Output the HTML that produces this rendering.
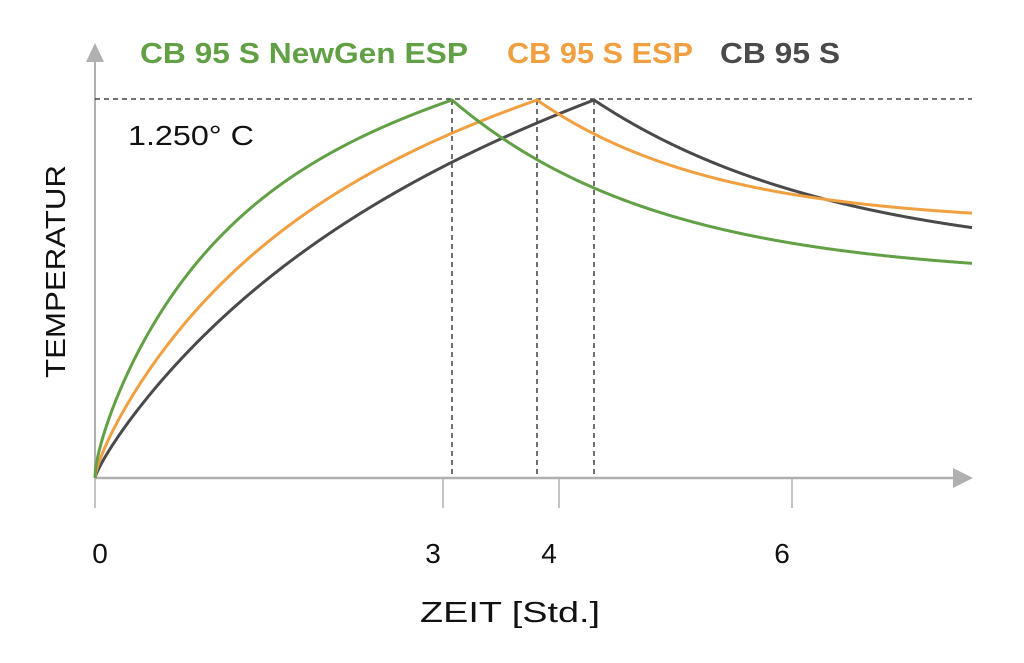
<!DOCTYPE html>
<html><head><meta charset="utf-8"><style>
html,body{margin:0;padding:0;background:#fff;}
svg{display:block;}
</style></head><body>
<svg id="s" width="1024" height="663" xmlns="http://www.w3.org/2000/svg" font-family="Liberation Sans, sans-serif">
<rect width="1024" height="663" fill="#fff"/>
<line x1="95" y1="478" x2="95" y2="60" stroke="#b0b0b0" stroke-width="2"/>
<polygon points="86,62 104,62 95,43" fill="#b0b0b0"/>
<line x1="95" y1="478" x2="955" y2="478" stroke="#b0b0b0" stroke-width="2.5"/>
<polygon points="953,468 953,488 973,478" fill="#b0b0b0"/>
<g stroke="#b0b0b0" stroke-width="1.5">
<line x1="95" y1="478" x2="95" y2="508"/>
<line x1="443" y1="478" x2="443" y2="508"/>
<line x1="559" y1="478" x2="559" y2="508"/>
<line x1="792" y1="478" x2="792" y2="508"/>
</g>
<g stroke="#222" stroke-width="1.3" stroke-dasharray="5,4" fill="none">
<line x1="95" y1="99" x2="972" y2="99"/>
<line x1="452" y1="100" x2="452" y2="478"/>
<line x1="537" y1="100" x2="537" y2="478"/>
<line x1="594" y1="100" x2="594" y2="478"/>
</g>
<g id="curves" fill="none" stroke-width="3"></g>
<g font-weight="bold" font-size="29">
<text x="140" y="63" fill="#62a045" textLength="328" lengthAdjust="spacingAndGlyphs">CB 95 S NewGen ESP</text>
<text x="507" y="63" fill="#f0a040" textLength="186" lengthAdjust="spacingAndGlyphs">CB 95 S ESP</text>
<text x="720" y="63" fill="#4a4a4a" textLength="120" lengthAdjust="spacingAndGlyphs">CB 95 S</text>
</g>
<text x="128" y="145" font-size="28" fill="#111" textLength="126" lengthAdjust="spacingAndGlyphs">1.250° C</text>
<text transform="translate(65,378) rotate(-90)" font-size="28" fill="#111" textLength="213" lengthAdjust="spacingAndGlyphs">TEMPERATUR</text>
<g font-size="28" fill="#111" text-anchor="middle">
<text x="100" y="563">0</text>
<text x="433" y="563">3</text>
<text x="549" y="563">4</text>
<text x="782" y="563">6</text>
</g>
<text x="420" y="622" font-size="29" fill="#111" textLength="180" lengthAdjust="spacingAndGlyphs">ZEIT [Std.]</text>
</svg>
<script>
(function(){
var g=document.getElementById('curves');
function curve(px,p,k,A,m,color){
 var d='M95,478';
 for(var x=95.5;x<=px;x+=0.5){var u=(x-95)/(px-95);var f=0.5*Math.pow(u,p)+0.5*(1-Math.exp(-k*u))/(1-Math.exp(-k));d+=' L'+x+','+(478-378*f).toFixed(2);}
 for(var x=px+1;x<=972;x++){var y=A-(A-100)*Math.exp(-m*(x-px));d+=' L'+x+','+y.toFixed(2);}
 var e=document.createElementNS('http://www.w3.org/2000/svg','path');
 e.setAttribute('d',d);e.setAttribute('stroke',color);g.appendChild(e);
}
curve(594,0.7,2.0,262,0.0041,'#4a4a4a');
curve(537,0.6,2.5,224,0.0056,'#f0a040');
curve(452,0.5,3.0,278,0.0048,'#62a045');
})();
</script>
</body></html>
